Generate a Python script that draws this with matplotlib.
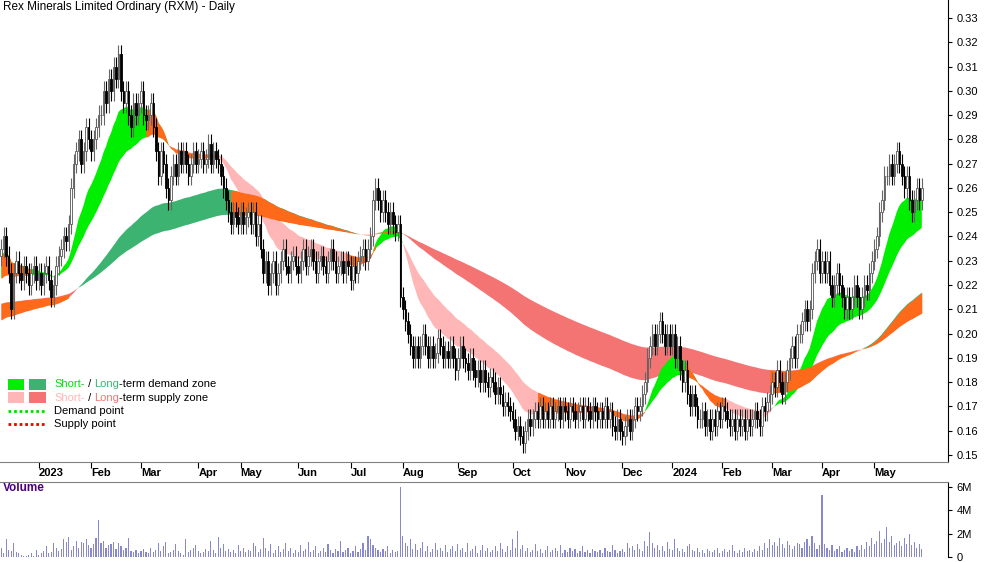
import numpy as np
import matplotlib
matplotlib.use("Agg")
import matplotlib.pyplot as plt
from matplotlib.patches import Rectangle

plt.rcParams['font.family'] = ['Liberation Sans', 'DejaVu Sans']

closes = [
0.235,0.24,0.232,0.225,0.21,0.225,0.23,0.225,0.222,0.228,0.225,0.22,0.225,0.228,0.222,0.225,0.22,0.225,0.228,0.222,
0.215,0.22,0.228,0.232,0.235,0.24,0.238,0.245,0.26,0.27,0.275,0.28,0.27,0.275,0.285,0.28,0.275,0.28,0.285,0.29,
0.29,0.3,0.295,0.305,0.3,0.31,0.305,0.315,0.3,0.295,0.3,0.29,0.285,0.295,0.29,0.295,0.3,0.29,0.288,0.29,
0.295,0.285,0.275,0.265,0.275,0.27,0.26,0.255,0.265,0.27,0.265,0.275,0.27,0.275,0.27,0.265,0.27,0.275,0.27,0.272,
0.275,0.27,0.272,0.278,0.27,0.275,0.272,0.27,0.265,0.26,0.255,0.25,0.245,0.25,0.248,0.245,0.25,0.245,0.248,0.25,
0.245,0.25,0.24,0.245,0.235,0.225,0.23,0.22,0.225,0.23,0.22,0.225,0.23,0.235,0.228,0.225,0.23,0.232,0.228,0.225,
0.23,0.235,0.228,0.232,0.235,0.23,0.225,0.23,0.232,0.228,0.225,0.23,0.235,0.23,0.225,0.228,0.23,0.225,0.23,0.228,
0.222,0.228,0.225,0.23,0.232,0.235,0.23,0.235,0.24,0.255,0.26,0.255,0.25,0.255,0.25,0.245,0.25,0.245,0.242,0.245,
0.215,0.21,0.205,0.2,0.195,0.19,0.195,0.19,0.195,0.2,0.195,0.19,0.195,0.19,0.192,0.198,0.195,0.19,0.193,0.19,
0.195,0.19,0.185,0.19,0.195,0.19,0.188,0.185,0.19,0.185,0.182,0.185,0.18,0.185,0.18,0.178,0.182,0.18,0.175,0.178,
0.175,0.17,0.172,0.17,0.168,0.165,0.16,0.162,0.158,0.155,0.16,0.165,0.162,0.165,0.168,0.165,0.17,0.165,0.168,0.165,
0.17,0.165,0.168,0.17,0.165,0.17,0.168,0.165,0.17,0.168,0.165,0.168,0.17,0.165,0.17,0.168,0.165,0.17,0.168,0.165,
0.168,0.165,0.17,0.165,0.168,0.162,0.16,0.165,0.16,0.158,0.162,0.165,0.16,0.165,0.17,0.168,0.17,0.175,0.18,0.19,
0.195,0.2,0.195,0.2,0.205,0.2,0.195,0.2,0.195,0.2,0.19,0.195,0.185,0.18,0.185,0.175,0.17,0.175,0.17,0.165,
0.165,0.168,0.162,0.165,0.16,0.165,0.162,0.168,0.165,0.17,0.168,0.165,0.162,0.165,0.16,0.165,0.162,0.165,0.16,0.165,
0.162,0.165,0.168,0.165,0.162,0.17,0.168,0.172,0.175,0.18,0.178,0.185,0.18,0.175,0.18,0.185,0.19,0.195,0.19,0.2,
0.2,0.205,0.21,0.205,0.21,0.225,0.23,0.235,0.225,0.23,0.225,0.23,0.22,0.215,0.22,0.225,0.22,0.215,0.21,0.215,
0.21,0.215,0.22,0.215,0.21,0.215,0.22,0.218,0.225,0.23,0.235,0.24,0.25,0.255,0.265,0.265,0.27,0.265,0.27,0.275,
0.27,0.265,0.26,0.265,0.255,0.25,0.255,0.26,0.255,0.26]

volume_m = [
0.8,0.3,1.5,0.6,0.5,1.2,0.4,0.3,0.2,0.1,0.1,0.2,0.3,0.1,0.6,0.2,0.3,0.5,0.9,0.3,
0.4,1.2,0.8,0.5,0.7,1.5,1.3,1.7,0.6,0.9,1.4,0.8,1.3,1.2,1.5,1.0,0.8,1.1,1.6,3.2,
1.2,1.4,0.8,1.0,1.1,1.3,0.7,1.2,0.9,0.6,0.8,1.6,0.5,0.4,0.6,0.3,0.5,0.7,0.4,0.3,
0.8,0.4,0.6,1.2,0.5,0.9,1.3,0.3,0.4,0.6,1.1,0.5,0.3,0.2,1.5,0.4,0.6,0.8,1.0,0.5,
0.3,0.4,0.7,0.5,1.4,0.6,0.3,1.7,0.8,1.1,0.5,0.7,0.4,0.6,0.3,1.0,0.5,0.8,0.4,0.6,
0.5,1.2,0.9,0.4,0.7,1.6,0.8,0.5,1.1,0.3,0.6,0.9,0.4,0.7,1.2,0.5,0.8,0.3,0.6,0.4,
1.0,0.5,0.7,1.3,0.4,0.6,0.9,0.3,0.5,0.8,0.4,1.1,0.6,0.3,0.7,0.5,1.4,0.4,0.6,0.8,
0.3,0.5,0.9,0.4,0.7,1.2,0.6,1.8,1.5,1.0,0.8,0.6,0.4,0.7,0.5,0.9,0.3,0.6,0.4,0.5,
6.0,1.8,1.2,0.9,1.5,0.7,1.1,0.6,0.8,1.3,0.5,0.9,0.4,0.7,1.2,0.6,0.8,0.5,1.0,0.4,
0.7,0.9,0.5,1.1,0.6,0.8,0.4,1.2,0.5,0.7,0.9,0.3,0.6,1.0,0.5,0.8,0.4,0.6,0.9,0.5,
1.2,0.7,0.4,0.9,0.6,1.5,0.8,2.2,0.7,1.0,0.5,0.8,0.4,0.6,1.1,0.5,0.7,0.3,0.6,0.9,
0.4,0.6,0.8,0.5,1.0,0.3,0.6,0.4,0.8,0.5,0.7,0.3,0.5,0.9,0.4,0.6,0.3,0.7,0.5,0.4,
0.6,0.3,0.8,0.5,0.4,1.0,0.6,0.3,0.5,0.7,0.4,1.2,0.8,0.9,0.6,1.1,0.7,0.5,1.4,0.9,
2.1,1.2,0.8,1.0,0.6,0.9,0.5,1.3,0.7,0.6,1.5,0.8,0.5,0.7,0.4,0.9,1.1,0.6,0.5,0.8,
0.4,0.6,0.3,0.7,0.5,0.4,0.6,0.8,0.3,0.5,0.7,0.4,0.6,1.0,0.5,0.3,0.6,0.4,0.8,0.5,
0.6,0.4,0.7,0.5,0.9,0.6,1.2,0.8,1.5,1.0,1.3,0.9,1.6,1.1,0.8,1.4,1.0,0.7,0.9,1.2,
1.1,0.8,1.3,1.5,0.9,1.8,1.2,0.7,1.0,5.3,1.1,0.8,0.6,1.0,0.5,0.7,0.9,0.4,0.6,0.8,
0.5,0.7,0.4,0.9,0.6,1.0,0.7,1.3,0.9,1.6,1.1,1.4,2.2,1.2,1.5,2.6,1.3,1.8,1.0,1.2,
1.4,0.9,1.6,1.1,2.0,1.0,1.3,0.8,1.1,0.7]

month_labels = ['2023','Feb','Mar','Apr','May','Jun','Jul','Aug','Sep','Oct','Nov','Dec',
                '2024','Feb','Mar','Apr','May']
month_bar = [15,36,56,79,96,119,140,161,183,205,226,249,269,289,309,329,350]
price_ticks = [0.15,0.16,0.17,0.18,0.19,0.20,0.21,0.22,0.23,0.24,0.25,0.26,0.27,0.28,0.29,0.30,0.31,0.32,0.33]

c = np.array(closes)
n = len(c)
x = np.arange(n)
o = np.concatenate([[0.232], c[:-1]])
hi = np.maximum(o, c) + 0.004
lo = np.minimum(o, c) - 0.004

def ema(v, span, init):
    a = 2/(span+1); out = []; e = init
    for val in v:
        e = e + a*(val-e); out.append(e)
    return np.array(out)

s_fast = ema(c, 16, 0.232); s_slow = ema(c, 36, 0.222)
l_fast = ema(c, 100, 0.205); l_slow = ema(c, 170, 0.212)

# orange index ranges (style)
long_orange = [(0, 27), (92, 162), (308, n)]
short_orange = [(0, 12), (58, 86), (138, 150), (215, 258), (274, 290)]

W, H = 1000, 562
fig = plt.figure(figsize=(10, 5.62), dpi=100)
ax = fig.add_axes([0, 1-462/H, 948/W, 462/H])
axv = fig.add_axes([0, 5/H, 948/W, 75/H])
axd = fig.add_axes([0, 1-482/H, 948/W, 20/H])

def band(fast, slow, cg, cr, oranges):
    top = np.maximum(fast, slow); bot = np.minimum(fast, slow)
    ax.fill_between(x, bot, top, where=fast >= slow, color=cg, lw=0, interpolate=True, zorder=1)
    ax.fill_between(x, bot, top, where=fast < slow, color=cr, lw=0, interpolate=True, zorder=1)
    for a, b in oranges:
        sl = slice(a, min(b+1, n))
        ax.fill_between(x[sl], bot[sl], top[sl], color='#ff6a1a', lw=0, zorder=1.5)

band(l_fast, l_slow, '#3cb371', '#f47474', long_orange)
band(s_fast, s_slow, '#00ee00', '#ffb6b6', short_orange)

up = c >= o
ax.vlines(x, lo, hi, color=np.where(up, '#666666', '#000000'), lw=0.8, zorder=3)
ax.bar(x[up], (c-o)[up], bottom=o[up], width=0.6, color='white', edgecolor='#555555', lw=0.6, zorder=4)
ax.bar(x[~up], (o-c)[~up], bottom=c[~up], width=0.6, color='black', edgecolor='black', lw=0.6, zorder=4)

xl = (-0.5, 379.5)
ax.set_xlim(xl); ax.set_ylim(0.1471, 0.3374)
ax.yaxis.tick_right()
ax.set_yticks(price_ticks)
ax.set_yticklabels([f'{t:.2f}' for t in price_ticks], fontsize=8)
ax.set_xticks([])
ax.tick_params(axis='y', length=3, pad=3)
for s in ['top', 'left', 'bottom']:
    ax.spines[s].set_visible(False)
ax.text(0.003, 0.998, 'Rex Minerals Limited Ordinary (RXM) - Daily', transform=ax.transAxes,
        fontsize=8.5, va='top', ha='left')

# legend
ax.add_patch(Rectangle((0.008, 0.156), 0.017, 0.024, transform=ax.transAxes, color='#00ee00', lw=0))
ax.add_patch(Rectangle((0.031, 0.156), 0.017, 0.024, transform=ax.transAxes, color='#3cb371', lw=0))
ax.add_patch(Rectangle((0.008, 0.127), 0.017, 0.024, transform=ax.transAxes, color='#ffb6b6', lw=0))
ax.add_patch(Rectangle((0.031, 0.127), 0.017, 0.024, transform=ax.transAxes, color='#f47474', lw=0))
def leg_row2(y, parts):
    xx = 0.057
    for txt, col in parts:
        t = ax.text(xx, y, txt, transform=ax.transAxes, fontsize=8, color=col, va='center')
        fig.canvas.draw()
        bb = t.get_window_extent().transformed(ax.transAxes.inverted())
        xx = bb.x1
leg_row2(0.168, [('Short-', '#00dd00'), (' / ', 'black'), ('Long', '#3cb371'), ('-term demand zone', 'black')])
leg_row2(0.139, [('Short-', '#ffb6b6'), (' / ', 'black'), ('Long', '#f47474'), ('-term supply zone', 'black')])
ax.plot([0.008, 0.048], [0.110, 0.110], transform=ax.transAxes, color='#00dd00', ls=(0, (1, 1)), lw=2)
ax.plot([0.008, 0.048], [0.082, 0.082], transform=ax.transAxes, color='#ee0000', ls=(0, (1, 1)), lw=2)
ax.text(0.057, 0.110, 'Demand point', transform=ax.transAxes, fontsize=8, va='center')
ax.text(0.057, 0.082, 'Supply point', transform=ax.transAxes, fontsize=8, va='center')

# date strip
axd.set_xlim(xl); axd.set_ylim(0, 1)
axd.set_yticks([])
axd.set_xticks(month_bar)
axd.set_xticklabels([])
axd.tick_params(axis='x', direction='in', length=4, top=True, bottom=False)
for b, lab in zip(month_bar, month_labels):
    axd.text(b, 0.45, lab, fontsize=8, fontweight='bold', ha='left', va='center')
for s in ['left', 'right']:
    axd.spines[s].set_visible(False)
for s in ['top', 'bottom']:
    axd.spines[s].set_color('#808080')
axd.patch.set_alpha(0)

# volume
v = np.array(volume_m) * 1e6
axv.bar(x, v, width=0.45, color='#8888cc', zorder=2)
axv.set_xlim(xl); axv.set_ylim(0, 6.4e6)
axv.yaxis.tick_right()
axv.set_yticks([0, 2e6, 4e6, 6e6])
axv.set_yticklabels(['0', '2M', '4M', '6M'], fontsize=8)
axv.set_xticks([])
axv.tick_params(axis='y', length=3, pad=3)
for s in ['top', 'left', 'bottom']:
    axv.spines[s].set_visible(False)
axv.text(0.003, 1.0, 'Volume', transform=axv.transAxes, fontsize=8.5, color='#4b0082',
         fontweight='bold', va='top')

fig.savefig('out.png', dpi=100)
